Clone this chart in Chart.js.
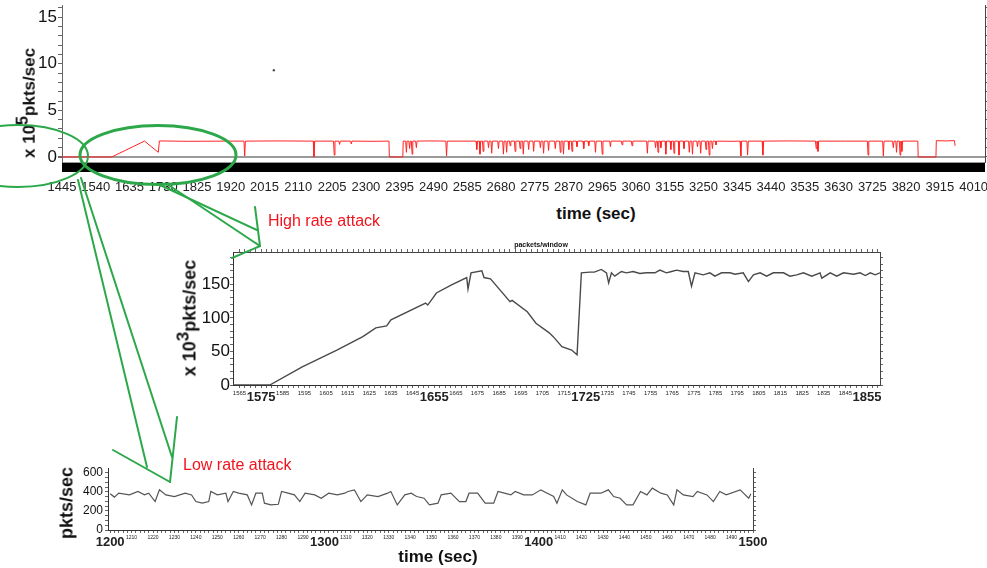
<!DOCTYPE html>
<html>
<head>
<meta charset="utf-8">
<script src="https://cdn.jsdelivr.net/npm/chart.js@4.4.1/dist/chart.umd.min.js"></script>
<style>
  html, body { margin: 0; padding: 0; background: #fff; overflow: hidden; }
  body { width: 987px; height: 568px; position: relative; font-family: 'Liberation Sans', Arial, sans-serif; }
  canvas { position: absolute; }
  #overview { left: 0; top: 0; }
  #zoomHigh { left: 150px; top: 236px; }
  #zoomLow { left: 40px; top: 455px; }
  .lbl { position: absolute; white-space: nowrap; color: #111; font-weight: bold; transform: translate(-50%, -50%); }
  .vert { transform: translate(-50%, -50%) rotate(-90deg); }
  .note { position: absolute; color: #f0141e; font-size: 16px; white-space: nowrap; transform: translateY(-50%); }
  sup { font-size: 0.95em; }
  svg { position: absolute; left: 0; top: 0; pointer-events: none; }
</style>
</head>
<body>
<canvas id="overview" width="1010" height="200"></canvas>
<canvas id="zoomHigh" width="760" height="175"></canvas>
<canvas id="zoomLow" width="740" height="100"></canvas>

<div class="lbl vert" style="left:26px; top:103px; font-size:17px">x 10<sup>5</sup>pkts/sec</div>
<div class="lbl" style="left:596px; top:214px; font-size:17px">time (sec)</div>
<div class="lbl" style="left:541px; top:244px; font-size:7px">packets/window</div>
<div class="lbl vert" style="left:187px; top:318px; font-size:18px">x 10<sup>3</sup>pkts/sec</div>
<div class="lbl vert" style="left:67px; top:503px; font-size:18px">pkts/sec</div>
<div class="lbl" style="left:438px; top:557px; font-size:17px">time (sec)</div>
<div class="note" style="left:268px; top:221px">High rate attack</div>
<div class="note" style="left:183px; top:465px">Low rate attack</div>

<svg width="987" height="568" fill="none" stroke="#2ca84a" stroke-linecap="round">
  <ellipse cx="18" cy="156" rx="70" ry="31" stroke-width="2"/>
  <ellipse cx="158" cy="155" rx="78" ry="29.5" stroke-width="3"/>
  <g stroke-width="2">
    <line x1="160" y1="185" x2="257" y2="230"/>
    <line x1="170" y1="186" x2="260" y2="246"/>
    <line x1="232" y1="258" x2="260" y2="246"/>
    <line x1="255" y1="207" x2="260" y2="246"/>
    <line x1="81" y1="178" x2="172" y2="457"/>
    <line x1="78" y1="180" x2="147" y2="467"/>
    <line x1="113" y1="450" x2="170" y2="482"/>
    <line x1="177" y1="417" x2="170" y2="482"/>
  </g>
</svg>

<script>
// Overview: packet rate (x 10^5 pkts/sec) over time
const redTime = [
  1445, 1585, 1677, 1716, 1719, 1800, 1900,
  1957, 1959, 1961, 2050, 2152, 2154, 2156,
  2209, 2211, 2213, 2224, 2226, 2228, 2257, 2259, 2261, 2320,
  2365, 2366, 2404, 2405,
  2412, 2414, 2416, 2421, 2423, 2425, 2428, 2430, 2432, 2440, 2442, 2444, 2480,
  2525, 2527, 2529, 2570,
  2610, 2612, 2614, 2619, 2621, 2623, 2628, 2630, 2632, 2643, 2645, 2647,
  2652, 2654, 2656, 2671, 2673, 2675, 2685, 2687, 2689, 2694, 2696, 2698,
  2704, 2706, 2708, 2718, 2720, 2722, 2732, 2734, 2736, 2741, 2743, 2745,
  2756, 2758, 2760, 2770, 2772, 2774, 2789, 2791, 2793, 2798, 2800, 2802,
  2812, 2814, 2816, 2831, 2833, 2835, 2845, 2847, 2849, 2854, 2856, 2858,
  2869, 2871, 2873, 2878, 2880, 2882, 2892, 2894, 2896, 2911, 2913, 2915,
  2925, 2927, 2929, 2944, 2946, 2948, 2963, 2965, 2967, 2986, 2988, 2990,
  3019, 3021, 3023, 3047, 3049, 3051, 3090, 3092, 3094, 3113, 3115, 3117,
  3120, 3122, 3124, 3128, 3130, 3132, 3142, 3144, 3146, 3156, 3158, 3160,
  3165, 3167, 3169, 3179, 3181, 3183, 3193, 3195, 3197, 3208, 3210, 3212,
  3217, 3219, 3221, 3231, 3233, 3235, 3240, 3242, 3244, 3255, 3257, 3259,
  3264, 3266, 3268, 3273, 3275, 3277, 3283, 3285, 3287, 3330,
  3353, 3355, 3357, 3372, 3374, 3376, 3415, 3417, 3419, 3490,
  3565, 3567, 3569, 3570, 3572, 3574, 3650,
  3711, 3713, 3715, 3754, 3756, 3758, 3782, 3784, 3786, 3791, 3793, 3795,
  3801, 3803, 3805, 3806, 3808, 3810,
  3853, 3854, 3904, 3905, 3930, 3956, 3958
]
const redRate = [
  0, 0, 1.7, 0.5, 1.72, 1.68, 1.7,
  1.7, 0.1, 1.7, 1.72, 1.7, 0, 1.7,
  1.7, 0.2, 1.7, 1.7, 1.35, 1.7, 1.7, 1.4, 1.7, 1.68,
  1.7, 0, 0, 1.7,
  1.7, 0.5, 1.7, 1.7, 0.9, 1.7, 1.7, 0.3, 1.7, 1.7, 1.0, 1.7, 1.72,
  1.7, 0.1, 1.7, 1.7,
  1.7, 0.8, 1.7, 1.7, 0.3, 1.7, 1.7, 0.6, 1.7, 1.7, 1.0, 1.7,
  1.7, 0.4, 1.7, 1.7, 0.9, 1.7, 1.7, 0.3, 1.7, 1.7, 0.5, 1.7,
  1.7, 1.2, 1.7, 1.7, 0.6, 1.7, 1.7, 0.9, 1.7, 1.7, 0.3, 1.7,
  1.7, 0.8, 1.7, 1.7, 0.6, 1.7, 1.7, 1.0, 1.7, 1.7, 0.4, 1.7,
  1.7, 0.7, 1.7, 1.7, 0.9, 1.7, 1.7, 0.5, 1.7, 1.7, 0.3, 1.7,
  1.7, 0.8, 1.7, 1.7, 0.6, 1.7, 1.7, 1.1, 1.7, 1.7, 0.9, 1.7,
  1.7, 1.2, 1.7, 1.7, 0.5, 1.7, 1.7, 0.3, 1.7, 1.7, 1.1, 1.7,
  1.7, 1.3, 1.7, 1.7, 1.2, 1.7, 1.7, 0.4, 1.7, 1.7, 1.0, 1.7,
  1.7, 0.5, 1.7, 1.7, 1.0, 1.7, 1.7, 0.3, 1.7, 1.7, 0.8, 1.7,
  1.7, 0.4, 1.7, 1.7, 0.2, 1.7, 1.7, 0.9, 1.7, 1.7, 0.5, 1.7,
  1.7, 0.3, 1.7, 1.7, 1.1, 1.7, 1.7, 0.4, 1.7, 1.7, 0.8, 1.7,
  1.7, 0.2, 1.7, 1.7, 0.9, 1.7, 1.7, 1.3, 1.7, 1.68,
  1.7, 0.1, 1.7, 1.7, 0.2, 1.7, 1.7, 0.2, 1.7, 1.72,
  1.7, 0.9, 1.7, 1.7, 0.6, 1.7, 1.7,
  1.7, 0.2, 1.7, 1.7, 0.1, 1.7, 1.7, 1.0, 1.7, 1.7, 0.5, 1.7,
  1.7, 0.2, 1.7, 1.7, 0.6, 1.7,
  1.7, 0, 0, 1.75, 1.72, 1.75, 1.2
]
const strayTime = [2041]
const strayRate = [9.3]

// High rate zoom (x 10^3 pkts/sec)
const midTime = [
  1562, 1579, 1594, 1610, 1622, 1628, 1633, 1635, 1651, 1652,
  1656, 1663, 1670, 1670.6, 1672, 1677, 1678, 1681, 1690, 1691,
  1698, 1702, 1708, 1710, 1714, 1718.5, 1721, 1723, 1726.8, 1729,
  1732.2, 1734.6, 1735.6, 1736.9, 1738.4, 1741.5, 1743.8, 1746.9, 1750, 1753,
  1757, 1759.3, 1762.3, 1764.7, 1767, 1770, 1772.4, 1773.9, 1775.5, 1779.3,
  1782.4, 1784.7, 1787.8, 1791.7, 1794, 1797.8, 1800.2, 1802.5, 1805.6, 1808.6,
  1811.7, 1816.4, 1819.4, 1822.5, 1825.6, 1829.5, 1833.3, 1834.1, 1838, 1841,
  1844.1, 1848.8, 1851.8, 1854.2, 1856.5, 1858.8, 1861
]
const midRate = [
  0, 0, 27, 52, 72, 85, 88, 97, 122, 119,
  137, 149, 160, 143, 167, 170, 160, 158, 124, 126,
  109, 92, 78, 72, 57, 52, 45, 167, 168, 168,
  172, 167, 152, 167, 162, 169, 167, 169, 166, 167,
  167, 171, 167, 169, 171, 169, 169, 147, 167, 164,
  167, 162, 167, 167, 165, 167, 154, 164, 167, 162,
  167, 167, 162, 164, 167, 162, 167, 159, 167, 162,
  167, 165, 167, 163, 167, 164, 167
]
const bigMidTicks = [1575, 1655, 1725, 1855]

// Low rate zoom (pkts/sec)
const lowTime = [
  1200, 1202, 1204, 1209, 1213, 1216, 1218, 1221, 1223, 1226,
  1230, 1235, 1238, 1240, 1243, 1246, 1247, 1250, 1254, 1255,
  1257.5, 1260, 1264, 1266, 1268, 1271, 1272, 1275, 1278.5, 1280,
  1283, 1286, 1288.5, 1291, 1295.5, 1298.5, 1302, 1306, 1309.5, 1311,
  1314, 1317, 1320, 1325, 1329.5, 1331, 1334, 1337.5, 1340.5, 1343,
  1346.5, 1349, 1353, 1354.5, 1359, 1363, 1366, 1367.5, 1371.5, 1375,
  1379, 1381, 1384, 1387, 1389, 1393, 1397, 1401, 1404, 1407,
  1408.5, 1411, 1413, 1418, 1422, 1424, 1429, 1432.5, 1435, 1438,
  1441, 1444, 1447.5, 1450.5, 1453, 1457, 1460, 1463, 1464.5, 1467.5,
  1472, 1474, 1478.5, 1481.5, 1484.5, 1487.5, 1494, 1498, 1499
]
const lowRate = [
  380, 345, 386, 368, 404, 368, 386, 298, 421, 368,
  351, 386, 368, 298, 281, 298, 404, 368, 386, 298,
  404, 386, 368, 263, 386, 386, 281, 263, 270, 404,
  386, 368, 298, 386, 368, 333, 386, 368, 386, 404,
  421, 298, 368, 351, 386, 404, 263, 368, 386, 351,
  333, 263, 281, 368, 386, 298, 298, 386, 386, 281,
  281, 404, 386, 368, 404, 368, 368, 421, 386, 351,
  281, 421, 368, 298, 263, 386, 386, 421, 351, 333,
  263, 263, 404, 368, 439, 386, 368, 263, 421, 368,
  351, 404, 368, 298, 404, 368, 421, 333, 380
]


Chart.defaults.font.family = "'Liberation Sans', Arial, sans-serif"

// axis ticks from..to by step
const tickRange = (from, to, step) => {
    const ticks = []
    for (let v = from; v <= to + 1e-6; v += step) ticks.push({ value: Math.round(v * 100) / 100 })
    return ticks
}

const points = (xs, ys) => xs.map((x, i) => ({ x, y: ys[i] }))

const baseOptions = {
    responsive: false,
    animation: false,
    plugins: { legend: { display: false }, tooltip: { enabled: false } },
}

// side axis with tick marks only
const markAxis = (position, min, max, ticks, size) => ({
    type: 'linear', position, min, max,
    afterBuildTicks: s => { s.ticks = ticks() },
    afterFit: s => { if (position == 'top' || position == 'bottom') s.height = size; else s.width = size },
    border: { color: '#444' },
    grid: { drawOnChartArea: false, tickLength: 3, color: '#666' },
    ticks: { display: false },
})


const createOverview = () => {
    const isLabel = v => (v - 1445) % 95 == 0

    new Chart(document.getElementById('overview'), {
        type: 'line',
        data: {
            datasets: [
                { data: points(redTime, redRate), borderColor: '#ff2424', borderWidth: 1, pointRadius: 0 },
                { type: 'scatter', data: points(strayTime, strayRate), pointRadius: 1.2, backgroundColor: '#555', borderWidth: 0 },
            ]
        },
        options: {
            ...baseOptions,
            layout: { padding: { top: 5, right: 19 } },
            scales: {
                x: {
                    type: 'linear', min: 1445, max: 4042,
                    afterBuildTicks: s => { s.ticks = tickRange(1445, 4040, 2.5) },
                    afterFit: s => { s.height = 38 },
                    border: { color: '#999' },
                    grid: { drawOnChartArea: false, tickLength: 10, color: '#000', lineWidth: 1 },
                    ticks: {
                        autoSkip: false, maxRotation: 0, padding: 8, color: '#222',
                        font: c => ({ size: c.tick && isLabel(c.tick.value) ? 13 : 1 }),
                        callback: v => isLabel(v) ? String(v) : '',
                    }
                },
                y: {
                    min: -0.54, max: 16.3,
                    afterBuildTicks: s => { s.ticks = tickRange(0, 16, 1) },
                    afterFit: s => { s.width = 62 },
                    border: { color: '#666' },
                    grid: {
                        color: c => c.tick && c.tick.value == 0 ? '#9a9a9a' : 'rgba(0,0,0,0)',
                        lineWidth: c => c.tick && c.tick.value == 0 ? 2 : 1,
                        tickColor: '#666', tickLength: 4,
                    },
                    ticks: {
                        autoSkip: false, padding: 1, color: '#111',
                        font: c => ({ size: c.tick && c.tick.value % 5 == 0 ? 17 : 1 }),
                        callback: v => v % 5 == 0 ? v : '',
                    }
                },
                y2: markAxis('right', -0.54, 16.3, () => tickRange(0, 16, 1), 6),
            }
        }
    })
}

const createHighZoom = () => {
    const isLabel = v => (v - 1565) % 10 == 0
    const tickFont = c => {
        if (!c.tick) return { size: 1 }
        const v = c.tick.value
        if (bigMidTicks.includes(v)) return { size: 13, weight: 'bold' }
        return { size: isLabel(v) ? 6 : 1 }
    }

    new Chart(document.getElementById('zoomHigh'), {
        type: 'line',
        data: {
            datasets: [{ data: points(midTime, midRate), borderColor: '#4a4a4a', borderWidth: 1.4, pointRadius: 0 }]
        },
        options: {
            ...baseOptions,
            layout: { padding: { top: 12, right: 26 } },
            scales: {
                x: {
                    type: 'linear', min: 1562, max: 1861,
                    afterBuildTicks: s => { s.ticks = tickRange(1565, 1860, 2.5) },
                    afterFit: s => { s.height = 26 },
                    border: { color: '#333' },
                    grid: { drawOnChartArea: false, tickLength: 3, color: '#666' },
                    ticks: {
                        autoSkip: false, maxRotation: 0, padding: 2, color: '#222',
                        font: tickFont,
                        callback: v => isLabel(v) ? String(v) : '',
                    }
                },
                x2: markAxis('top', 1562, 1861, () => tickRange(1565, 1860, 2.5), 4),
                y: {
                    min: 0, max: 198,
                    afterBuildTicks: s => { s.ticks = tickRange(0, 190, 10) },
                    afterFit: s => { s.width = 83 },
                    border: { color: '#333' },
                    grid: { drawOnChartArea: false, tickLength: 3, color: '#666' },
                    ticks: {
                        autoSkip: false, padding: 0, color: '#111',
                        font: c => ({ size: c.tick && c.tick.value % 50 == 0 ? 17 : 1 }),
                        callback: v => v % 50 == 0 ? v : '',
                    }
                },
                y2: markAxis('right', 0, 198, () => tickRange(0, 190, 10), 4),
            }
        }
    })
}

const createLowZoom = () => {
    const tickFont = c => {
        if (!c.tick) return { size: 1 }
        const v = c.tick.value
        if (v % 100 == 0) return { size: 13, weight: 'bold' }
        return { size: v % 10 == 0 ? 5 : 1 }
    }

    new Chart(document.getElementById('zoomLow'), {
        type: 'line',
        data: {
            datasets: [{ data: points(lowTime, lowRate), borderColor: '#555', borderWidth: 1.2, pointRadius: 0 }]
        },
        options: {
            ...baseOptions,
            layout: { padding: { top: 13, right: 22 } },
            scales: {
                x: {
                    type: 'linear', min: 1199, max: 1500,
                    afterBuildTicks: s => { s.ticks = tickRange(1200, 1500, 2) },
                    afterFit: s => { s.height = 25 },
                    border: { color: '#333' },
                    grid: { drawOnChartArea: false, tickLength: 3, color: '#666' },
                    ticks: {
                        autoSkip: false, maxRotation: 0, padding: 2, color: '#222',
                        font: tickFont,
                        callback: v => v % 10 == 0 ? String(v) : '',
                    }
                },
                y: {
                    min: 0, max: 650,
                    afterBuildTicks: s => { s.ticks = tickRange(0, 600, 50) },
                    afterFit: s => { s.width = 68 },
                    border: { color: '#333' },
                    grid: { drawOnChartArea: false, tickLength: 3, color: '#666' },
                    ticks: {
                        autoSkip: false, padding: 2, color: '#111',
                        font: c => ({ size: c.tick && c.tick.value % 200 == 0 ? 12 : 1 }),
                        callback: v => v % 200 == 0 ? v : '',
                    }
                },
                y2: markAxis('right', 0, 650, () => tickRange(0, 600, 50), 5),
            }
        }
    })
}


createOverview()
createHighZoom()
createLowZoom()
</script>
</body>
</html>
